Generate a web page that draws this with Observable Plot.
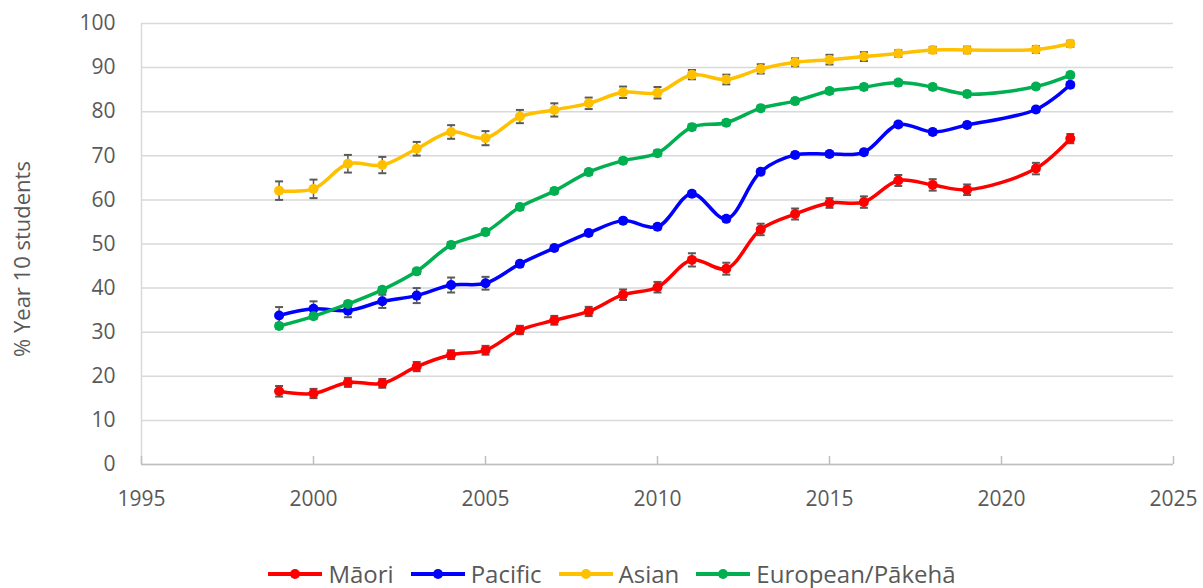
<!DOCTYPE html>
<html>
<head>
<meta charset="utf-8">
<script src="https://cdn.jsdelivr.net/npm/d3@7"></script>
<script src="https://cdn.jsdelivr.net/npm/@observablehq/plot@0.6"></script>
<style>
  html, body { margin: 0; padding: 0; background: #fff; overflow: hidden; }
  #chart { width: 1203px; }
  .legend { display: flex; justify-content: center; align-items: center; gap: 16px;
    font-family: "Open Sans", sans-serif; font-size: 24px; line-height: 28px; color: #595959; margin-top: 40px; margin-left: 20px; }
  .legend .item { display: flex; align-items: center; gap: 5px; }
  .legend svg { display: block; }
</style>
</head>
<body>
<div id="chart"></div>
<script>
const years = [1999,2000,2001,2002,2003,2004,2005,2006,2007,2008,2009,2010,2011,2012,2013,2014,2015,2016,2017,2018,2019,2021,2022];

const maori    = [16.6,16.1,18.6,18.4,22.2,24.9,25.9,30.5,32.7,34.7,38.5,40.2,46.4,44.4,53.3,56.8,59.3,59.5,64.4,63.4,62.3,67.1,73.9];
const maoriErr = [1.2,1.05,1.0,1.0,1.05,1.0,1.0,0.95,1.0,1.05,1.2,1.2,1.5,1.35,1.3,1.25,1.1,1.3,1.25,1.3,1.2,1.3,1.05];

const pacific    = [33.8,35.3,34.9,37.0,38.3,40.7,41.1,45.5,49.1,52.5,55.3,53.9,61.4,55.7,66.4,70.2,70.4,70.8,77.1,75.4,77.0,80.5,86.1];
const pacificErr = [1.9,1.7,1.5,1.5,1.7,1.7,1.45,0.6,0.6,0.6,0.6,0.6,0.6,0.6,0.6,0.6,0.6,0.6,0.6,0.6,0.6,0.6,0.6];

const asian    = [62.1,62.5,68.2,67.9,71.6,75.4,74.0,78.9,80.4,81.9,84.4,84.3,88.4,87.3,89.7,91.2,91.8,92.5,93.2,94.0,94.0,94.1,95.4];
const asianErr = [2.1,2.1,2.0,1.85,1.55,1.55,1.6,1.5,1.5,1.3,1.3,1.3,1.05,1.1,1.05,0.9,1.1,1.0,0.75,0.7,0.75,0.75,0.7];

const european    = [31.4,33.6,36.4,39.6,43.8,49.8,52.7,58.4,62.0,66.3,68.9,70.6,76.5,77.5,80.8,82.4,84.7,85.6,86.6,85.6,84.0,85.7,88.3];
const europeanErr = [0.6,0.6,0.6,0.6,0.6,0.6,0.6,0.6,0.6,0.6,0.6,0.6,0.6,0.6,0.6,0.6,0.6,0.6,0.6,0.6,0.6,0.6,0.6];

const seriesNames  = ["Māori", "Pacific", "Asian", "European/Pākehā"];
const seriesColors = ["#FF0000", "#0000FF", "#FFC000", "#00B050"];
const xTicks = [1995,2000,2005,2010,2015,2020,2025];
const yTicks = [0,10,20,30,40,50,60,70,80,90,100];
const yLabel = "% Year 10 students";

const seriesValues = [maori, pacific, asian, european];
const seriesErrors = [maoriErr, pacificErr, asianErr, europeanErr];

const rows = [];
seriesNames.forEach((name, si) => {
  years.forEach((yr, i) => {
    rows.push({series: name, year: yr, value: seriesValues[si][i], lo: seriesValues[si][i] - seriesErrors[si][i], hi: seriesValues[si][i] + seriesErrors[si][i]});
  });
});

// horizontal cap symbol for error bars
const capSymbol = {
  draw(context, size) {
    const w = Math.sqrt(size / Math.PI);
    context.moveTo(-w, 0);
    context.lineTo(w, 0);
  }
};

const font = "Open Sans, sans-serif";
const grey = "#595959";

const chart = Plot.plot({
  width: 1203,
  height: 520,
  marginLeft: 141,
  marginRight: 30,
  marginTop: 23,
  marginBottom: 56,
  style: {fontFamily: font, fontSize: "21px", color: grey, background: "#fff"},
  x: {domain: [1995, 2025]},
  y: {domain: [0, 100]},
  color: {domain: seriesNames, range: seriesColors},
  marks: [
    Plot.gridY(yTicks, {stroke: "#d9d9d9", strokeOpacity: 1, strokeWidth: 1.5}),
    Plot.ruleY([0], {stroke: "#bfbfbf", strokeWidth: 1.5}),
    Plot.ruleX([1995], {stroke: "#d9d9d9", strokeWidth: 1.5}),
    Plot.axisX(xTicks, {tickSize: -8, stroke: "#bfbfbf", strokeWidth: 1.5, text: null, label: null}),
    Plot.axisX(xTicks, {tickSize: 0, tickPadding: 27, tickFormat: d => String(d), fill: grey, label: null}),
    Plot.axisY(yTicks, {tickSize: 0, tickPadding: 26, fill: grey, label: null}),
    Plot.text([yLabel], {frameAnchor: "left", textAnchor: "middle", rotate: -90, dx: -119, dy: 15, fill: grey, fontSize: 22}),
    // error bars
    Plot.ruleX(rows, {x: "year", y1: "lo", y2: "hi", stroke: grey, strokeWidth: 1.5}),
    Plot.dot(rows, {x: "year", y: "lo", symbol: capSymbol, r: 4, stroke: grey, fill: "none", strokeWidth: 2}),
    Plot.dot(rows, {x: "year", y: "hi", symbol: capSymbol, r: 4, stroke: grey, fill: "none", strokeWidth: 2}),
    // lines + markers
    Plot.line(rows, {x: "year", y: "value", z: "series", stroke: "series", strokeWidth: 3.5, curve: "catmull-rom"}),
    Plot.dot(rows, {x: "year", y: "value", fill: "series", r: 5})
  ]
});

document.getElementById("chart").appendChild(chart);

// legend
const legend = document.createElement("div");
legend.className = "legend";
seriesNames.forEach((name, i) => {
  const item = document.createElement("div");
  item.className = "item";
  item.innerHTML = `<svg width="56" height="14"><line x1="1" y1="7" x2="55" y2="7" stroke="${seriesColors[i]}" stroke-width="4"/><circle cx="28" cy="7" r="5" fill="${seriesColors[i]}"/></svg><span>${name}</span>`;
  legend.appendChild(item);
});
document.body.appendChild(legend);
</script>
</body>
</html>
